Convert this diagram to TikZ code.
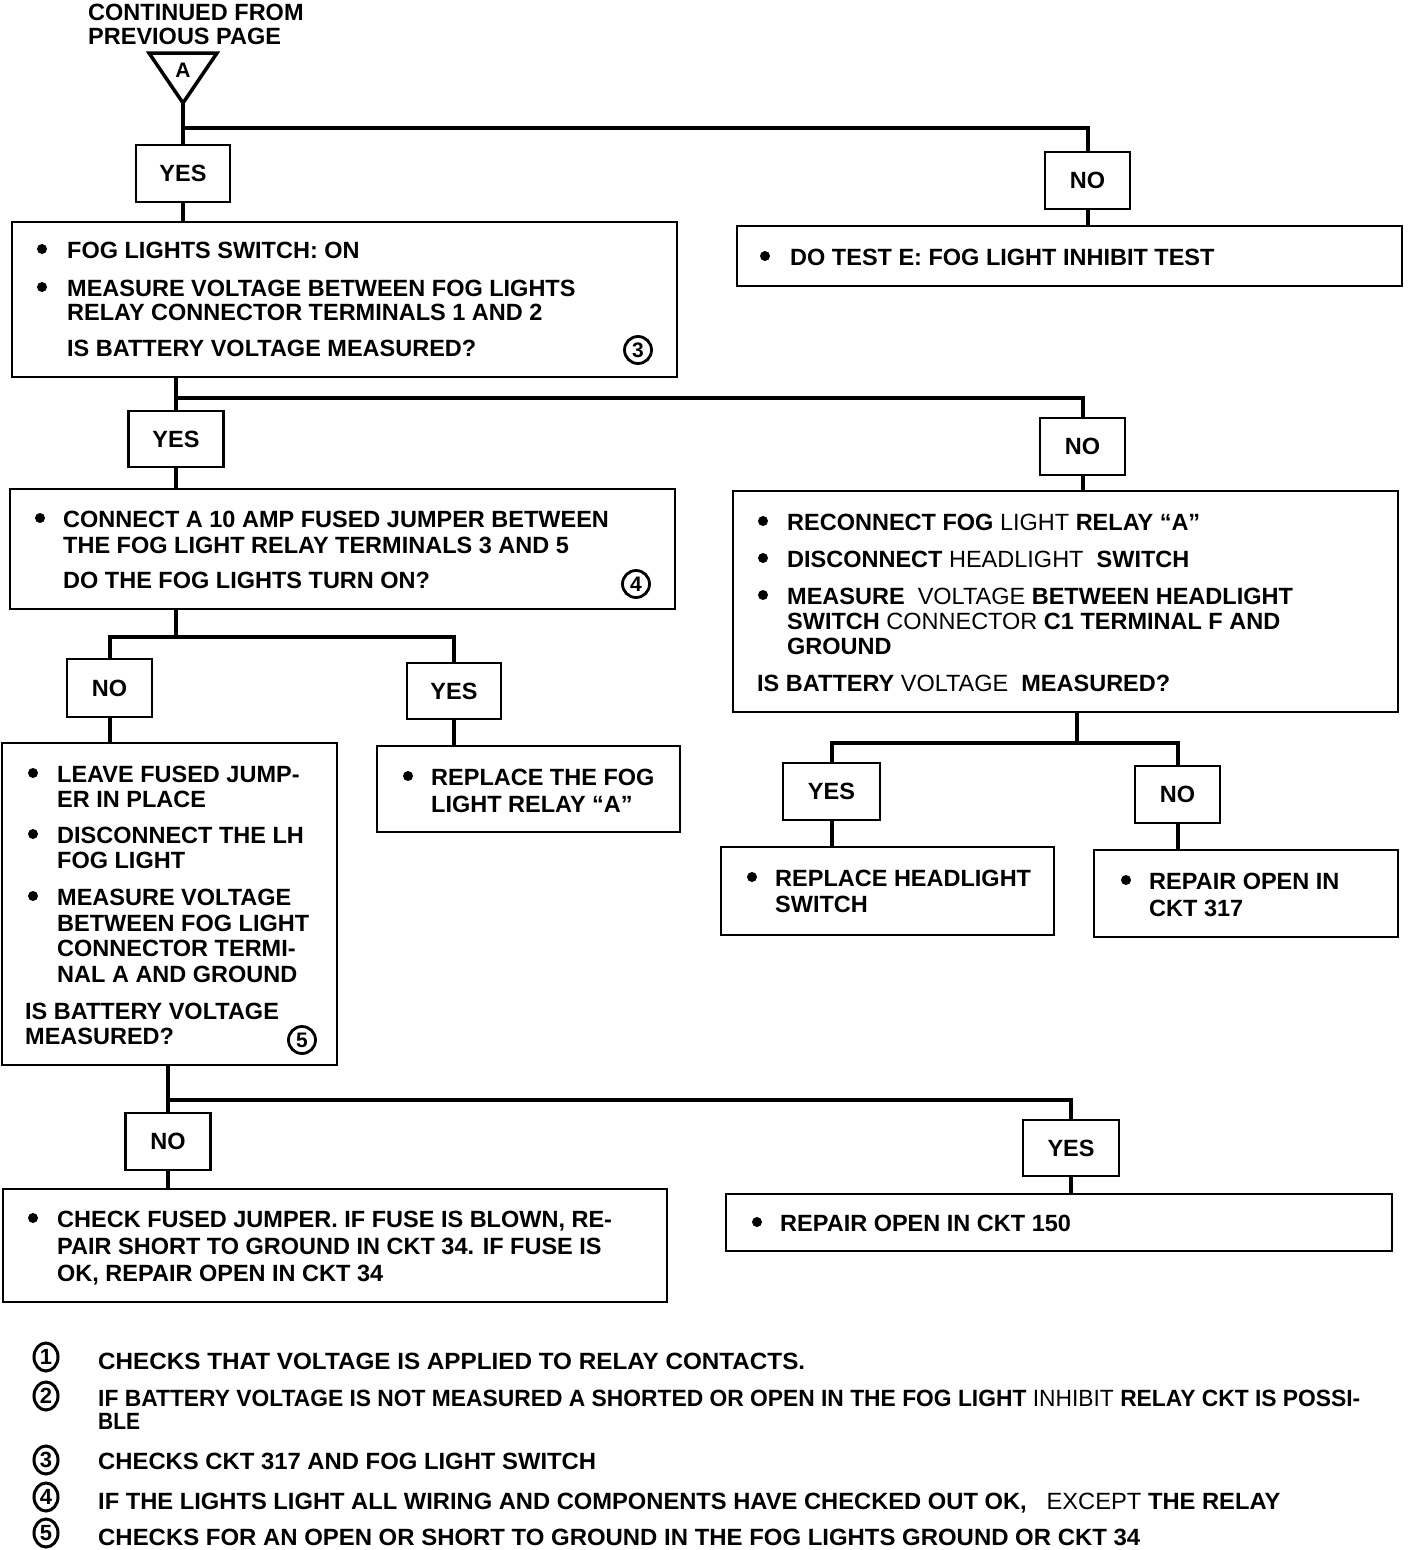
\documentclass[tikz,border=0pt]{standalone}
\usepackage{graphicx}
\usepackage{fontspec}
\setmainfont{Liberation Sans}
\usetikzlibrary{fit,shapes.geometric}
\newcommand\mainfs{\fontsize{23.5}{26}\selectfont}
\newcommand\rg[1]{{\mdseries #1}}
\newcommand\lw[2]{\resizebox{#1pt}{\height}{#2}}
\begin{document}
\begin{tikzpicture}[x=1pt,y=-1pt,
  box/.style={draw, line width=2.6pt, inner sep=0pt},
  yn/.style={draw, line width=2.6pt, inner sep=0pt, font=\mainfs\bfseries},
  conn/.style={line width=4pt},
  txt/.style={anchor=base west, inner sep=0pt, font=\mainfs\bfseries},
  bul/.style={circle, fill, inner sep=0pt, minimum size=10pt},
  num/.style={draw, circle, line width=2.8pt, inner sep=0pt, minimum size=27pt, font=\fontsize{21}{21}\selectfont\bfseries},
  lnum/.style={draw, ellipse, line width=3pt, inner sep=0pt, minimum width=24pt, minimum height=28pt, font=\fontsize{22}{22}\selectfont\bfseries},
  trishape/.style={line width=3.5pt, line join=miter}
]
\useasboundingbox (0,0) rectangle (1408,1550);

% title and off-page connector
\node[txt] (title1) at (88,20) {CONTINUED FROM};
\node[txt] (title2) at (88,44) {PREVIOUS PAGE};
\coordinate (apex) at (183,103);
\draw[trishape] (149,53) -- (217,53) -- (apex) -- cycle;
\node[font=\fontsize{21}{21}\selectfont\bfseries] (Alab) at (183,70) {A};

% boxes
\node[box, fit={(12,222) (677,377)}] (A) {};
\node[box, fit={(737,226) (1402,286)}] (B) {};
\node[box, fit={(10,489) (675,609)}] (C) {};
\node[box, fit={(733,491) (1398,712)}] (D) {};
\node[box, fit={(2,743) (337,1065)}] (E) {};
\node[box, fit={(377,746) (680,832)}] (F) {};
\node[box, fit={(721,847) (1054,935)}] (G) {};
\node[box, fit={(1094,850) (1398,937)}] (H) {};
\node[box, fit={(3,1189) (667,1302)}] (I) {};
\node[box, fit={(726,1194) (1392,1251)}] (J) {};

% yes / no boxes
\node[yn, minimum width=94pt, minimum height=57pt] (yes1) at (183,173.5) {YES};
\node[yn, minimum width=85pt, minimum height=57pt] (no1) at (1087.5,180.5) {NO};
\node[yn, minimum width=95pt, minimum height=56pt] (yes2) at (176,439) {YES};
\node[yn, minimum width=85pt, minimum height=57pt] (no2) at (1082.5,446.5) {NO};
\node[yn, minimum width=85pt, minimum height=58pt] (no3) at (109.5,688) {NO};
\node[yn, minimum width=94pt, minimum height=56pt] (yes3) at (454,691) {YES};
\node[yn, minimum width=97pt, minimum height=57pt] (yes4) at (831.5,791.5) {YES};
\node[yn, minimum width=85pt, minimum height=57pt] (no4) at (1177.5,794.5) {NO};
\node[yn, minimum width=85pt, minimum height=57pt] (no5) at (168,1141.5) {NO};
\node[yn, minimum width=96pt, minimum height=56pt] (yes5) at (1071,1148) {YES};

% connectors
\coordinate (j1) at (183,128);
\draw[conn] (apex) -- (yes1.north);
\draw[conn] (j1) -| (no1.north);
\draw[conn] (yes1.south) -- (yes1.south |- A.north);
\draw[conn] (no1.south) -- (no1.south |- B.north);

\coordinate (j2) at (176,398);
\draw[conn] (yes2.north |- A.south) -- (yes2.north);
\draw[conn] (j2) -| (no2.north);
\draw[conn] (yes2.south) -- (yes2.south |- C.north);
\draw[conn] (no2.south) -- (no2.south |- D.north);

\coordinate (j3) at (176,637);
\draw[conn] (j3 |- C.south) -- (j3);
\draw[conn] (no3.north) |- (j3) -| (yes3.north);
\draw[conn] (no3.south) -- (no3.south |- E.north);
\draw[conn] (yes3.south) -- (yes3.south |- F.north);

\coordinate (j4) at (1077,743);
\draw[conn] (j4 |- D.south) -- (j4);
\draw[conn] (yes4.north) |- (j4) -| (no4.north);
\draw[conn] (yes4.south) -- (yes4.south |- G.north);
\draw[conn] (no4.south) -- (no4.south |- H.north);

\coordinate (j5) at (168,1100);
\draw[conn] (j5 |- E.south) -- (no5.north);
\draw[conn] (j5) -| (yes5.north);
\draw[conn] (no5.south) -- (no5.south |- I.north);
\draw[conn] (yes5.south) -- (yes5.south |- J.north);

% box A
\node[bul] (bA1) at (42,249) {};
\node[txt] (tA1) at (67,258) {FOG LIGHTS SWITCH: ON};
\node[bul] (bA2) at (42,287) {};
\node[txt] (tA2) at (67,296) {MEASURE VOLTAGE BETWEEN FOG LIGHTS};
\node[txt] (tA3) at (67,320) {RELAY CONNECTOR TERMINALS 1 AND 2};
\node[txt] (tA4) at (67,356) {IS BATTERY VOLTAGE MEASURED?};
\node[num] (nA) at (638,350) {3};

% box B
\node[bul] (bB1) at (765,256) {};
\node[txt] (tB1) at (790,265) {DO TEST E: FOG LIGHT INHIBIT TEST};

% box C
\node[bul] (bC1) at (40,518) {};
\node[txt] (tC1) at (63,527) {CONNECT A 10 AMP FUSED JUMPER BETWEEN};
\node[txt] (tC2) at (63,553) {THE FOG LIGHT RELAY TERMINALS 3 AND 5};
\node[txt] (tC3) at (63,588) {DO THE FOG LIGHTS TURN ON?};
\node[num] (nC) at (636,584) {4};

% box D
\node[bul] (bD1) at (763,521) {};
\node[txt] (tD1) at (787,530) {RECONNECT FOG \rg{LIGHT} RELAY ``A''};
\node[bul] (bD2) at (763,558) {};
\node[txt] (tD2) at (787,567) {DISCONNECT \rg{HEADLIGHT}\ \ SWITCH};
\node[bul] (bD3) at (763,595) {};
\node[txt] (tD3) at (787,604) {MEASURE\ \ \rg{VOLTAGE} BETWEEN HEADLIGHT};
\node[txt] (tD4) at (787,629) {SWITCH \rg{CONNECTOR} C1 TERMINAL F AND};
\node[txt] (tD5) at (787,654) {GROUND};
\node[txt] (tD6) at (757,691) {IS BATTERY \rg{VOLTAGE}\ \ MEASURED?};

% box E
\node[bul] (bE1) at (33,773) {};
\node[txt] (tE1) at (57,782) {LEAVE FUSED JUMP-};
\node[txt] (tE2) at (57,807) {ER IN PLACE};
\node[bul] (bE2) at (33,834) {};
\node[txt] (tE3) at (57,843) {DISCONNECT THE LH};
\node[txt] (tE4) at (57,868) {FOG LIGHT};
\node[bul] (bE3) at (33,896) {};
\node[txt] (tE5) at (57,905) {MEASURE VOLTAGE};
\node[txt] (tE6) at (57,931) {BETWEEN FOG LIGHT};
\node[txt] (tE7) at (57,956) {CONNECTOR TERMI-};
\node[txt] (tE8) at (57,982) {NAL A AND GROUND};
\node[txt] (tE9) at (25,1019) {IS BATTERY VOLTAGE};
\node[txt] (tE10) at (25,1044) {MEASURED?};
\node[num] (nE) at (302,1040) {5};

% box F
\node[bul] (bF1) at (408,776) {};
\node[txt] (tF1) at (431,785) {REPLACE THE FOG};
\node[txt] (tF2) at (431,812) {LIGHT RELAY ``A''};

% box G
\node[bul] (bG1) at (752,877) {};
\node[txt] (tG1) at (775,886) {REPLACE HEADLIGHT};
\node[txt] (tG2) at (775,912) {SWITCH};

% box H
\node[bul] (bH1) at (1126,880) {};
\node[txt] (tH1) at (1149,889) {REPAIR OPEN IN};
\node[txt] (tH2) at (1149,916) {CKT 317};

% box I
\node[bul] (bI1) at (33,1218) {};
\node[txt] (tI1) at (57,1227) {CHECK FUSED JUMPER. IF FUSE IS BLOWN, RE-};
\node[txt] (tI2) at (57,1254) {PAIR SHORT TO GROUND IN CKT 34. IF FUSE IS};
\node[txt] (tI3) at (57,1281) {OK, REPAIR OPEN IN CKT 34};

% box J
\node[bul] (bJ1) at (757,1222) {};
\node[txt] (tJ1) at (780,1231) {REPAIR OPEN IN CKT 150};

% legend
\node[lnum] (l1) at (46,1357) {1};
\node[lnum] (l2) at (46,1396) {2};
\node[lnum] (l3) at (46,1460) {3};
\node[lnum] (l4) at (46,1497) {4};
\node[lnum] (l5) at (46,1533) {5};
\node[txt] (lt1) at (98,1369) {\lw{707}{CHECKS THAT VOLTAGE IS APPLIED TO RELAY CONTACTS.}};
\node[txt] (lt2) at (98,1406) {\lw{1262}{IF BATTERY VOLTAGE IS NOT MEASURED A SHORTED OR OPEN IN THE FOG LIGHT \rg{INHIBIT} RELAY CKT IS POSSI-}};
\node[txt] (lt2b) at (98,1429) {\lw{42}{BLE}};
\node[txt] (lt3) at (98,1469) {\lw{498}{CHECKS CKT 317 AND FOG LIGHT SWITCH}};
\node[txt] (lt4) at (98,1509) {\lw{1182}{IF THE LIGHTS LIGHT ALL WIRING AND COMPONENTS HAVE CHECKED OUT OK,\ \ \ \rg{EXCEPT} THE RELAY}};
\node[txt] (lt5) at (98,1545) {\lw{1042}{CHECKS FOR AN OPEN OR SHORT TO GROUND IN THE FOG LIGHTS GROUND OR CKT 34}};
\end{tikzpicture}
\end{document}
